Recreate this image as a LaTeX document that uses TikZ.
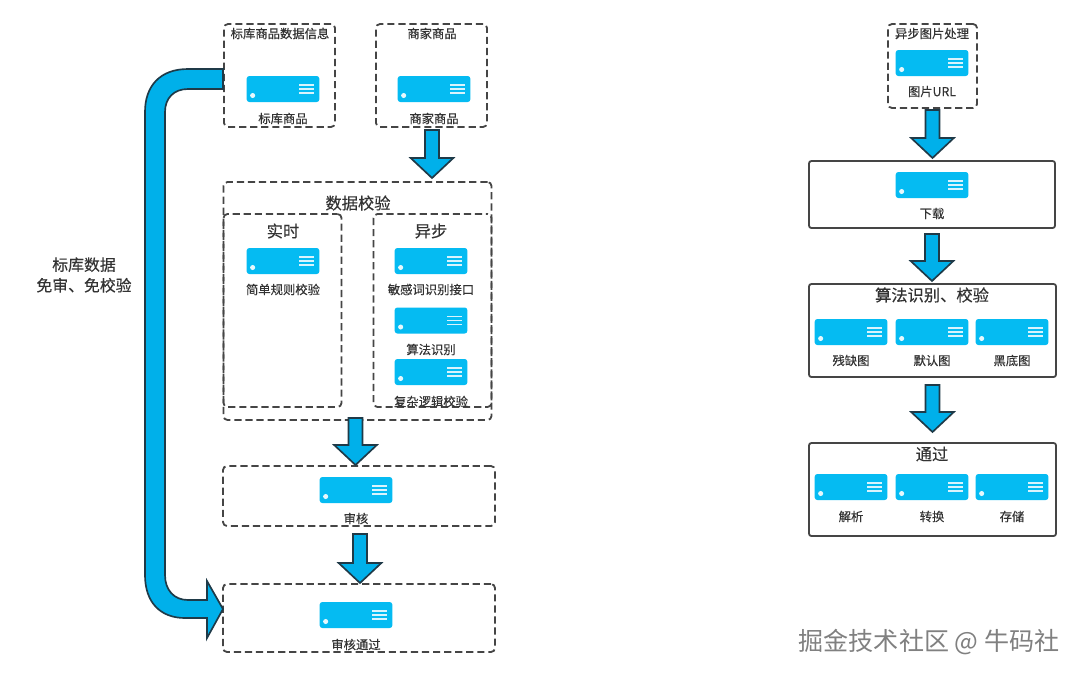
\documentclass[tikz,border=0pt]{standalone}
\usepackage{fontspec}
\setmainfont{Noto Sans CJK SC}[FakeBold=0.25]
\newfontfamily\wmfont{Noto Sans CJK SC}
\usetikzlibrary{calc}
\definecolor{srv}{HTML}{05BBF2}
\definecolor{arw}{HTML}{00B0EA}
\definecolor{ink}{HTML}{333333}
\definecolor{edge}{HTML}{454545}
\definecolor{arwedge}{HTML}{1F3A48}
\tikzset{
  x=0.75pt,y=-0.75pt,
  dashbox/.style={draw=edge,line width=1.35pt,dash pattern=on 5.4pt off 2.9pt,rounded corners=3pt,fill=none,outer sep=0pt},
  solidbox/.style={draw=edge,line width=1.35pt,rounded corners=1.8pt,fill=none,outer sep=0pt},
  lbl/.style={font=\fontsize{9.25pt}{11pt}\selectfont,text=ink,inner sep=0pt},
  ttl/.style={font=\fontsize{12.2pt}{14pt}\selectfont,text=ink,inner sep=0pt},
  serverbody/.style={fill=srv,rounded corners=2pt,draw=none,minimum width=54.5pt,minimum height=19.5pt,inner sep=0pt,outer sep=0pt},
  blockar/.style={draw=arwedge,line width=1.25pt,fill=arw,line join=miter},
  markw/.style={draw=white,line width=0.8pt,opacity=.85}
}
% \serv{name}{x}{y}
\newcommand{\serv}[3]{%
  \node[serverbody] (#1) at (#2,#3) {};
  \fill[white,opacity=.9] ($(#1.south west)+(6,-6.5)$) circle (1.9pt);
  \draw[markw] ($(#1.east)+(-20,-4)$) -- +(15,0);
  \draw[markw] ($(#1.east)+(-20,0)$) -- +(15,0);
  \draw[markw] ($(#1.east)+(-20,4)$) -- +(15,0);
}
% \blockarrow{start}{tip}: vertical block arrow between named coordinates
\newcommand{\blockarrow}[2]{%
  \draw[blockar] let \p1=(#1),\p2=(#2) in
    (\x1-5.2pt,\y1) -- (\x1+5.2pt,\y1) -- (\x1+5.2pt,\y2+15pt) -- (\x1+16pt,\y2+15pt)
    -- (\x1,\y2) -- (\x1-16pt,\y2+15pt) -- (\x1-5.2pt,\y2+15pt) -- cycle;
}
\newcommand{\bx}[6]{\node[#6,anchor=north west,minimum width=#4*0.75pt,minimum height=#5*0.75pt,inner sep=0pt] (#1) at (#2,#3) {};}
\begin{document}
\begin{tikzpicture}
\useasboundingbox (0,0) rectangle (1080,676);
\fill[white] (0,0) rectangle (1080,676);
% left column boxes
\bx{bk}{224}{24}{111}{103}{dashbox}
\bx{sj}{376}{24}{111}{103}{dashbox}
\bx{jy}{223.5}{182}{268}{238}{dashbox}
\bx{ss}{223.5}{214}{118}{193}{dashbox,dash phase=1.45pt}
\bx{yb}{373.5}{214}{118}{193}{dashbox,dash phase=4.25pt}
\bx{sh}{223}{466}{272}{60}{dashbox}
\bx{tg}{223}{584}{272}{68}{dashbox}
% right column boxes
\bx{yc}{888}{24}{89}{84}{dashbox}
\bx{xz}{809}{161}{246}{67}{solidbox}
\bx{sf}{809}{284}{247}{93}{solidbox}
\bx{pass}{809}{443}{247}{93}{solidbox}
% servers
\serv{s1}{283}{89}\serv{s2}{434}{89}\serv{s3}{283}{261}
\serv{s4}{431}{261}\serv{s5}{431}{320.5}\serv{s6}{431}{372}
\serv{s7}{356}{490}\serv{s8}{356}{615}
\serv{s9}{932}{63}\serv{s10}{932}{185}
\serv{s11}{851}{332}\serv{s12}{932}{332}\serv{s13}{1012}{332}
\serv{s14}{851}{487}\serv{s15}{932}{487}\serv{s16}{1012}{487}
% labels
\node[lbl] (l1) at (280,33.5) {标库商品数据信息};
\node[lbl] (l2) at (432,33.5) {商家商品};
\node[lbl] (l3) at (283,118.5) {标库商品};
\node[lbl] (l4) at (434,118.5) {商家商品};
\node[ttl] (l5) at (358,203) {数据校验};
\node[ttl] (l6) at (283,231) {实时};
\node[ttl] (l7) at (431,231) {异步};
\node[lbl] (l8) at (283,289.5) {简单规则校验};
\node[lbl] (l9) at (431,289.5) {敏感词识别接口};
\node[lbl] (l10) at (431,349.5) {算法识别};
\node[lbl] (l11) at (431,401.5) {复杂逻辑校验};
\node[lbl] (l12) at (356,518.5) {审核};
\node[lbl] (l13) at (356,644.5) {审核通过};
\node[lbl] (l14) at (932,33.5) {异步图片处理};
\node[lbl] (l15) at (932,91.5) {图片URL};
\node[lbl] (l16) at (932,213.5) {下载};
\node[ttl] (l17) at (932,295) {算法识别、校验};
\node[lbl] (l18) at (851,360.5) {残缺图};
\node[lbl] (l19) at (932,360.5) {默认图};
\node[lbl] (l20) at (1012,360.5) {黑底图};
\node[ttl] (l21) at (932,454) {通过};
\node[lbl] (l22) at (851,516.5) {解析};
\node[lbl] (l23) at (932,516.5) {转换};
\node[lbl] (l24) at (1012,516.5) {存储};
\node[lbl,font=\fontsize{11.9pt}{15.5pt}\selectfont,align=center] (side) at (84,275) {标库数据\\免审、免校验};
\node[inner sep=0pt,font=\wmfont\fontsize{18.8pt}{22pt}\selectfont,text=black!50] (wm) at (929,642) {掘金技术社区 @ 牛码社};
% block arrows
\coordinate (a1s) at ($(sj.south)+(0.5,3)$);   \coordinate (a1e) at ($(jy.north)+(75,-4)$);
\coordinate (a2s) at ($(jy.south)+(-2,-2)$);   \coordinate (a2e) at ($(sh.north)+(-4,-1)$);
\coordinate (a3s) at ($(sh.south)+(1,8)$);     \coordinate (a3e) at ($(tg.north)+(1,-1)$);
\coordinate (a4s) at ($(yc.south)+(0,2)$);     \coordinate (a4e) at ($(xz.north)+(0,-3)$);
\coordinate (a5s) at ($(xz.south)+(0,6)$);     \coordinate (a5e) at ($(sf.north)+(0,-3)$);
\coordinate (a6s) at ($(sf.south)+(0,8)$);     \coordinate (a6e) at ($(pass.north)+(0,-11)$);
\blockarrow{a1s}{a1e}
\blockarrow{a2s}{a2e}
\blockarrow{a3s}{a3e}
\blockarrow{a4s}{a4e}
\blockarrow{a5s}{a5e}
\blockarrow{a6s}{a6e}
% big bent arrow
\coordinate (bigs) at ($(bk.west)+(-1,3.5)$);
\coordinate (bige) at ($(tg.west)+(0,-9)$);
\draw[blockar] let \p1=(bigs),\p2=(bige) in
  (\x1,\y1-7.5pt) -- (\x1,\y1+7.5pt) -- (188,69)
  .. controls (160,69) and (145,86) .. (145,112)
  -- (145,575) .. controls (145,602) and (160,618) .. (185,618)
  -- (207,618) -- (207,638) -- (\x2,\y2) -- (207,581) -- (207,600)
  -- (188,600) .. controls (174,600) and (165,590) .. (165,575)
  -- (165,112) .. controls (165,98) and (174,89) .. (188,89) -- cycle;
\end{tikzpicture}
\end{document}
